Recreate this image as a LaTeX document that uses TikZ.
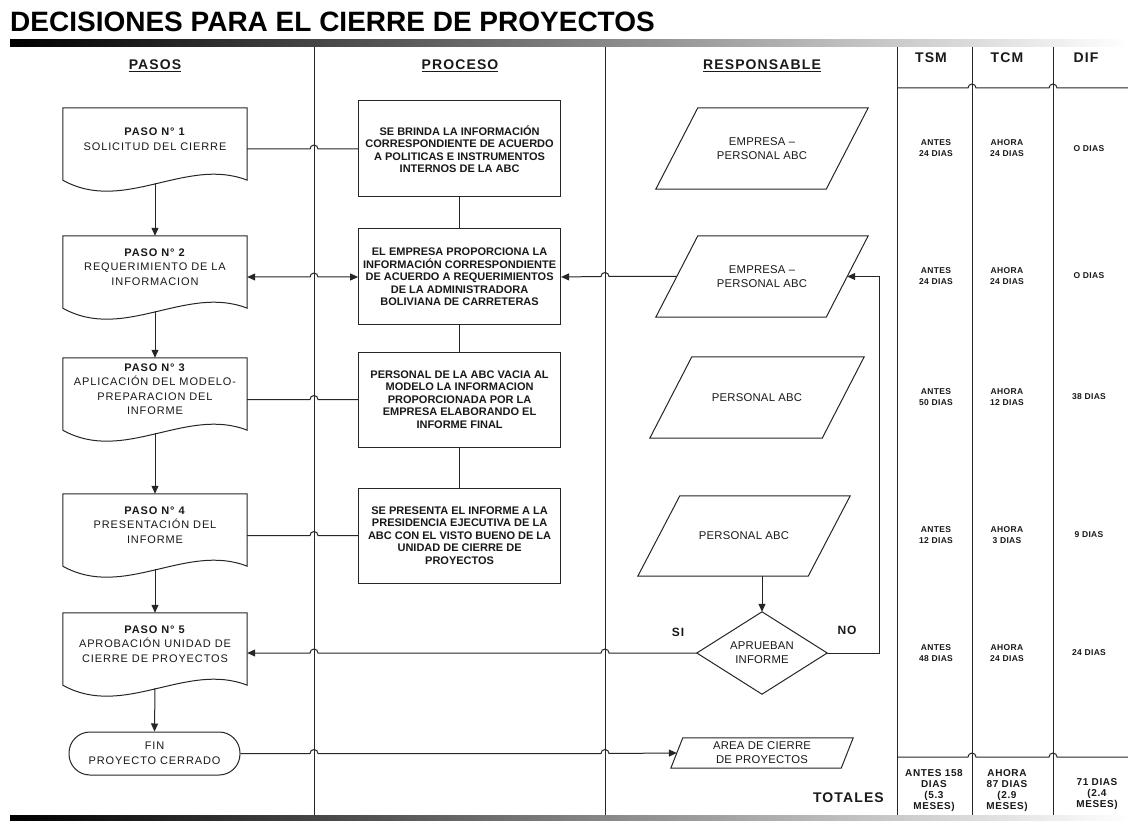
\documentclass[tikz,border=0pt]{standalone}
\usepackage{fontspec}
\setmainfont{Liberation Sans}
\newfontfamily\fnorm[LetterSpace=8]{Liberation Sans}
\newfontfamily\fresp[LetterSpace=2]{Liberation Sans}
\newfontfamily\fproc[LetterSpace=6]{Liberation Sans}
\newfontfamily\ftab[LetterSpace=4]{Liberation Sans}
\usetikzlibrary{arrows.meta,calc}
\newcommand\docshape[1]{\draw[ln] ([yshift=-10pt]#1.south west) -- (#1.north west) -- (#1.north east) -- ([yshift=-10pt]#1.south east) .. controls ([xshift=-61pt,yshift=14pt]#1.south east) and ([xshift=61pt,yshift=-44pt]#1.south west) .. ([yshift=-10pt]#1.south west) -- cycle;}
\newcommand\parashape[2]{\draw[ln] ([xshift=-#2]#1.south west) -- ([xshift=-#2]#1.south east) -- ([xshift=#2]#1.north east) -- ([xshift=#2]#1.north west) -- cycle;}
\begin{document}
\begin{tikzpicture}[x=1pt,y=-1pt,
  ln/.style={line width=1pt, draw=black!85},
  arr/.style={ln, -{Triangle[length=8pt,width=7pt]}},
  darr/.style={ln, {Triangle[length=8pt,width=7pt]}-{Triangle[length=8pt,width=7pt]}},
  pasobox/.style={rectangle, minimum width=184pt, minimum height=62pt, inner sep=0, align=center, text=black!90, font=\fnorm\fontsize{11}{14.5}\selectfont},
  procbox/.style={draw=black!85, line width=1pt, rectangle, minimum width=202pt, minimum height=96pt, inner sep=0, align=center, text=black!90, font=\bfseries\fontsize{11}{12.5}\selectfont},
  respbox/.style={rectangle, minimum width=170pt, minimum height=81pt, inner sep=0, align=center, text=black!90, font=\fresp\fontsize{11.3}{14}\selectfont},
  hdr/.style={font=\fnorm\bfseries\fontsize{14}{16}\selectfont, inner sep=0, text=black!90},
  tabtxt/.style={font=\ftab\bfseries\fontsize{8.5}{11}\selectfont, align=center, inner sep=0, text=black!90},
  tottxt/.style={font=\fproc\bfseries\fontsize{10}{11}\selectfont, align=center, inner sep=0, text=black!90},
  lbl/.style={font=\fnorm\bfseries\fontsize{12}{14}\selectfont, inner sep=0, text=black!90}
]
\fill[white] (0,0) rectangle (1128,821);
\useasboundingbox (0,0) rectangle (1128,821);

% title and bars
\node[anchor=base west, inner sep=0, font=\bfseries\fontsize{28}{30}\selectfont] (title) at (10,32) {DECISIONES PARA EL CIERRE DE PROYECTOS};
\shade[left color=black, right color=white] (10,40) rectangle (1128,47);
\shade[left color=black, right color=white] (10,815) rectangle (1128,821);

% column lines
\coordinate (v1) at (314,47);  \coordinate (w1) at (314,815);
\coordinate (v2) at (605,47);  \coordinate (w2) at (605,815);
\coordinate (v3) at (897,47);  \coordinate (w3) at (897,815);
\coordinate (v4) at (972,47);  \coordinate (w4) at (972,815);
\coordinate (v5) at (1053,47); \coordinate (w5) at (1053,815);
\draw[ln] (v1) -- (w1);
\draw[ln] (v2) -- (w2);
\draw[ln] (v3) -- (w3);
\draw[ln] (v4) -- (w4);
\draw[ln] (v5) -- (w5);

% table horizontal lines
\coordinate (t1) at (897,88);  \coordinate (t1e) at (1128,88);
\coordinate (t2) at (897,757); \coordinate (t2e) at (1128,757);
\draw[ln] (t1) -- ([xshift=-4pt]t1 -| v4) arc[start angle=180,end angle=0,radius=4pt] -- ([xshift=-4pt]t1 -| v5) arc[start angle=180,end angle=0,radius=4pt] -- (t1e);
\draw[ln] (t2) -- ([xshift=-4pt]t2 -| v4) arc[start angle=180,end angle=0,radius=4pt] -- ([xshift=-4pt]t2 -| v5) arc[start angle=180,end angle=0,radius=4pt] -- (t2e);

% headers
\node[hdr] (hpasos) at (155,66) {\underline{PASOS}};
\node[hdr] (hproc) at (460,66) {\underline{PROCESO}};
\node[hdr] (hresp) at (762,66) {\underline{RESPONSABLE}};
\node[hdr] (htsm) at (931,58) {TSM};
\node[hdr] (htcm) at (1007,58) {TCM};
\node[hdr] (hdif) at (1086,58) {DIF};

% pasos
\node[pasobox] (p1) at (155,139) {\textbf{PASO N° 1}\\SOLICITUD DEL CIERRE};
\node[pasobox] (p2) at (155,267) {\textbf{PASO N° 2}\\REQUERIMIENTO DE LA\\INFORMACION};
\node[pasobox] (p3) at (155,389) {\textbf{PASO N° 3}\\APLICACIÓN DEL MODELO-\\PREPARACION DEL\\INFORME};
\node[pasobox] (p4) at (155,525) {\textbf{PASO N° 4}\\PRESENTACIÓN DEL\\INFORME};
\node[pasobox] (p5) at (155,644) {\textbf{PASO N° 5}\\APROBACIÓN UNIDAD DE\\CIERRE DE PROYECTOS};
\docshape{p1}\docshape{p2}\docshape{p3}\docshape{p4}\docshape{p5}
\node[draw=black!85, line width=1pt, rounded corners=21pt, minimum width=171pt, minimum height=43pt, inner sep=0, align=center, text=black!90, font=\fnorm\fontsize{11}{14.5}\selectfont] (fin) at (154.5,753.5) {FIN\\PROYECTO CERRADO};

% proceso
\node[procbox] (pr1) at (459.6,149) {SE BRINDA LA INFORMACIÓN\\CORRESPONDIENTE DE ACUERDO\\A POLITICAS E INSTRUMENTOS\\INTERNOS DE LA ABC};
\node[procbox] (pr2) at (459.6,277) {EL EMPRESA PROPORCIONA LA\\INFORMACIÓN CORRESPONDIENTE\\DE ACUERDO A REQUERIMIENTOS\\DE LA ADMINISTRADORA\\BOLIVIANA DE CARRETERAS};
\node[procbox, minimum height=95pt] (pr3) at (459.6,399.5) {PERSONAL DE LA ABC VACIA AL\\MODELO LA INFORMACION\\PROPORCIONADA POR LA\\EMPRESA ELABORANDO EL\\INFORME FINAL};
\node[procbox, minimum height=95pt] (pr4) at (459.6,535.5) {SE PRESENTA EL INFORME A LA\\PRESIDENCIA EJECUTIVA DE LA\\ABC CON EL VISTO BUENO DE LA\\UNIDAD DE CIERRE DE\\PROYECTOS};
\draw[ln] (pr1.south) -- (pr2.north);
\draw[ln] (pr2.south) -- (pr3.north);
\draw[ln] (pr3.south) -- (pr4.north);

% responsable
\node[respbox] (r1) at (762,148.5) {EMPRESA –\\PERSONAL ABC};
\node[respbox] (r2) at (762,276.5) {EMPRESA –\\PERSONAL ABC};
\node[respbox, minimum width=172pt] (r3) at (757,397.5) {PERSONAL ABC};
\node[respbox, minimum height=80pt] (r4) at (744,536) {PERSONAL ABC};
\node[respbox, minimum height=30pt] (r5) at (762,753) {AREA DE CIERRE\\DE PROYECTOS};
\parashape{r1}{21pt}\parashape{r2}{21pt}\parashape{r3}{21pt}\parashape{r4}{21pt}\parashape{r5}{6pt}
\node[rectangle, minimum width=130pt, minimum height=82pt, inner sep=0, align=center, text=black!90, font=\fresp\fontsize{11.3}{14}\selectfont] (dia) at (762,653) {APRUEBAN\\INFORME};
\draw[ln] (dia.north) -- (dia.east) -- (dia.south) -- (dia.west) -- cycle;
\node[lbl] (si) at (678,632) {SI};
\node[lbl] (no) at (847,630) {NO};
\coordinate (lp) at (879,400);

% connectors
\draw[arr] ([yshift=-13pt]p1.south) -- (p2.north);
\draw[arr] ([yshift=-13pt]p2.south) -- (p3.north);
\draw[arr] ([yshift=-13pt]p3.south) -- (p4.north);
\draw[arr] ([yshift=-13pt]p4.south) -- (p5.north);
\draw[arr] ([yshift=-13pt]p5.south) -- (fin.north);
\draw[ln] (p1.east |- pr1.west) -- ([xshift=-4pt]pr1.west -| v1) arc[start angle=180,end angle=0,radius=4pt] -- (pr1.west);
\draw[darr] (p2.east |- pr2.west) -- ([xshift=-4pt]pr2.west -| v1) arc[start angle=180,end angle=0,radius=4pt] -- (pr2.west);
\draw[ln] (p3.east |- pr3.west) -- ([xshift=-4pt]pr3.west -| v1) arc[start angle=180,end angle=0,radius=4pt] -- (pr3.west);
\draw[ln] (p4.east |- pr4.west) -- ([xshift=-4pt]pr4.west -| v1) arc[start angle=180,end angle=0,radius=4pt] -- (pr4.west);
\draw[arr] (r2.west) -- ([xshift=4pt]r2.west -| v2) arc[start angle=0,end angle=180,radius=4pt] -- (pr2.east);
\draw[arr] (dia.west) -- ([xshift=4pt]dia.west -| v2) arc[start angle=0,end angle=180,radius=4pt] -- ([xshift=4pt]dia.west -| v1) arc[start angle=0,end angle=180,radius=4pt] -- (p5.east |- dia.west);
\draw[arr] (dia.east) -- (dia.east -| lp) |- (r2.east);
\draw[arr] (dia.north |- r4.south) -- (dia.north);
\draw[arr] (fin.east) -- ([xshift=-4pt]fin.east -| v1) arc[start angle=180,end angle=0,radius=4pt] -- ([xshift=-4pt]fin.east -| v2) arc[start angle=180,end angle=0,radius=4pt] -- (r5.west);

% table
\node[tabtxt] (a1) at (936,148.5) {ANTES\\24 DIAS};
\node[tabtxt] (b1) at (1007,148.5) {AHORA\\24 DIAS};
\node[tabtxt] (c1) at (1089,149) {O DIAS};
\node[tabtxt] (a2) at (936,276) {ANTES\\24 DIAS};
\node[tabtxt] (b2) at (1007,276) {AHORA\\24 DIAS};
\node[tabtxt] (c2) at (1089,276) {O DIAS};
\node[tabtxt] (a3) at (936,397) {ANTES\\50 DIAS};
\node[tabtxt] (b3) at (1007,397) {AHORA\\12 DIAS};
\node[tabtxt] (c3) at (1089,397) {38 DIAS};
\node[tabtxt] (a4) at (936,535) {ANTES\\12 DIAS};
\node[tabtxt] (b4) at (1007,535) {AHORA\\3 DIAS};
\node[tabtxt] (c4) at (1089,535) {9 DIAS};
\node[tabtxt] (a5) at (936,653) {ANTES\\48 DIAS};
\node[tabtxt] (b5) at (1007,653) {AHORA\\24 DIAS};
\node[tabtxt] (c5) at (1089,653) {24 DIAS};
\node[tottxt] (ta) at (934,791) {ANTES 158\\DIAS\\(5.3\\MESES)};
\node[tottxt] (tb) at (1007,791) {AHORA\\87 DIAS\\(2.9\\MESES)};
\node[tottxt] (tc) at (1097,794) {71 DIAS\\(2.4\\MESES)};
\node[hdr, anchor=east] (tot) at (884,798) {TOTALES};
\end{tikzpicture}
\end{document}
